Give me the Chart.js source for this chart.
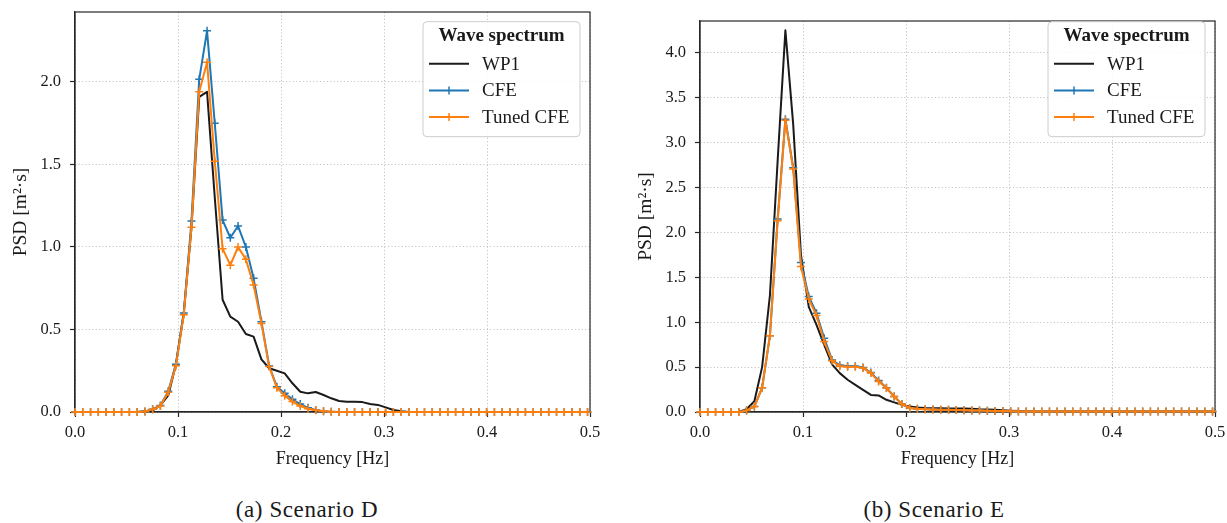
<!DOCTYPE html>
<html><head><meta charset="utf-8">
<script src="https://cdn.jsdelivr.net/npm/chart.js@4.4.1/dist/chart.umd.min.js"></script>
<style>
html,body{margin:0;padding:0;background:#fff;}
body{width:1227px;height:523px;position:relative;overflow:hidden;font-family:"Liberation Serif",serif;}
.wrap{position:absolute;top:0;height:480px;}
#w1{left:0;width:610px;}
#w2{left:625px;width:602px;}
.cap{position:absolute;top:497px;font-size:23px;letter-spacing:0.6px;line-height:26px;color:#1a1a1a;transform:translateX(-50%);white-space:nowrap;}
</style></head>
<body>
<div class="wrap" id="w1"><canvas id="c1" width="610" height="480"></canvas></div>
<div class="wrap" id="w2"><canvas id="c2" width="602" height="480"></canvas></div>
<div class="cap" style="left:307px">(a) Scenario D</div>
<div class="cap" style="left:934px">(b) Scenario E</div>
<script>
// ---- data ----
const freq = [0.0000,0.0075,0.0151,0.0226,0.0302,0.0377,0.0452,0.0528,0.0603,0.0679,
0.0754,0.0829,0.0905,0.0980,0.1056,0.1131,0.1206,0.1282,0.1357,0.1433,
0.1508,0.1583,0.1659,0.1734,0.1810,0.1885,0.1960,0.2036,0.2111,0.2187,
0.2262,0.2337,0.2413,0.2488,0.2564,0.2639,0.2714,0.2790,0.2865,0.2941,
0.3016,0.3091,0.3167,0.3242,0.3318,0.3393,0.3468,0.3544,0.3619,0.3695,
0.3770,0.3845,0.3921,0.3996,0.4072,0.4147,0.4222,0.4298,0.4373,0.4449,
0.4524,0.4599,0.4675,0.4750,0.4826,0.4901,0.4976];

const seriesNames = ["WP1", "CFE", "Tuned CFE"];

const dWP1 = [0,0,0,0,0,0,0,0,0,0.005,
0.01,0.04,0.10,0.29,0.60,1.12,1.91,1.94,1.30,0.68,
0.578,0.547,0.473,0.457,0.319,0.265,0.25,0.234,0.174,0.123,
0.113,0.121,0.103,0.083,0.067,0.062,0.062,0.06,0.048,0.043,
0.028,0.012,0.005,0,0,0,0,0,0,0,
0,0,0,0,0,0,0,0,0,0,
0,0,0,0,0,0,0];
const dCFE = [0,0,0,0,0,0,0,0,0,0.003,
0.017,0.04,0.125,0.29,0.60,1.157,2.016,2.31,1.75,1.163,
1.056,1.127,1.0,0.81,0.547,0.279,0.153,0.113,0.077,0.048,
0.025,0.012,0.005,0.002,0,0,0,0,0,0,
0,0,0,0,0,0,0,0,0,0,
0,0,0,0,0,0,0,0,0,0,
0,0,0,0,0,0,0];
const dTuned = [0,0,0,0,0,0,0,0,0,0.003,
0.016,0.036,0.12,0.28,0.59,1.12,1.94,2.12,1.52,0.99,
0.89,1.0,0.925,0.77,0.537,0.275,0.147,0.099,0.063,0.036,
0.02,0.01,0.005,0.002,0,0,0,0,0,0,
0,0,0,0,0,0,0,0,0,0,
0,0,0,0,0,0,0,0,0,0,
0,0,0,0,0,0,0];

const eWP1 = [0,0,0,0,0,0,0.03,0.12,0.5,1.3,
2.8,4.25,3.2,1.75,1.17,0.97,0.748,0.53,0.433,0.359,
0.303,0.247,0.19,0.185,0.136,0.107,0.08,0.06,0.05,0.045,
0.042,0.042,0.04,0.04,0.038,0.035,0.03,0.027,0.024,0.02,
0.015,0.01,0.008,0.005,0.005,0.005,0.005,0.005,0.005,0.005,
0.005,0.005,0.005,0.005,0.005,0.005,0.005,0.005,0.005,0.005,
0.005,0.005,0.005,0.005,0.005,0.005,0.005];
const eCFE = [0,0,0,0,0,0,0.017,0.06,0.27,0.85,
2.15,3.26,2.72,1.665,1.286,1.10,0.82,0.58,0.52,0.51,
0.51,0.495,0.44,0.35,0.27,0.173,0.088,0.045,0.035,0.03,
0.028,0.026,0.024,0.022,0.02,0.018,0.016,0.014,0.012,0.01,
0.008,0.006,0.005,0.005,0.005,0.005,0.005,0.005,0.005,0.005,
0.005,0.005,0.005,0.005,0.005,0.005,0.005,0.005,0.005,0.005,
0.005,0.005,0.005,0.005,0.005,0.005,0.005];
const eTuned = [0,0,0,0,0,0,0.017,0.06,0.27,0.85,
2.13,3.25,2.705,1.62,1.257,1.075,0.785,0.57,0.51,0.505,
0.505,0.489,0.433,0.34,0.266,0.173,0.088,0.045,0.035,0.03,
0.028,0.026,0.024,0.022,0.02,0.018,0.016,0.014,0.012,0.01,
0.008,0.006,0.005,0.005,0.005,0.005,0.005,0.005,0.005,0.005,
0.005,0.005,0.005,0.005,0.005,0.005,0.005,0.005,0.005,0.005,
0.005,0.005,0.005,0.005,0.005,0.005,0.005];

const xTicks = [0.0, 0.1, 0.2, 0.3, 0.4, 0.5];
const yTicksD = [0.0, 0.5, 1.0, 1.5, 2.0];
const yTicksE = [0.0, 0.5, 1.0, 1.5, 2.0, 2.5, 3.0, 3.5, 4.0];

// ---- styling ----
const FONT = '"Liberation Serif", serif';
const TXT = '#1a1a1a';
const SPINE = '#262626';
const colors = ['#1a1a1a', '#1f77b4', '#ff7f0e'];

const pts = (arr) => freq.map((f, i) => ({x: f, y: arr[i]}));

const framePlugin = {
  id: 'frame',
  beforeDatasetsDraw(chart) {
    const {ctx, chartArea: a} = chart;
    ctx.save();
    ctx.strokeStyle = SPINE;
    ctx.lineWidth = 1.2;
    ctx.strokeRect(a.left, a.top, a.right - a.left, a.bottom - a.top);
    ctx.restore();
  }
};

const legendPlugin = {
  id: 'boxLegend',
  afterDraw(chart, args, opts) {
    const {ctx, chartArea: a} = chart;
    const w = 157, h = 115;
    const x0 = a.right - 10 - w, y0 = opts.top;
    ctx.save();
    ctx.beginPath();
    if (ctx.roundRect) ctx.roundRect(x0, y0, w, h, 4); else ctx.rect(x0, y0, w, h);
    ctx.fillStyle = 'rgba(255,255,255,0.85)';
    ctx.fill();
    ctx.strokeStyle = '#cccccc';
    ctx.lineWidth = 1;
    ctx.stroke();
    ctx.fillStyle = TXT;
    ctx.textBaseline = 'middle';
    ctx.textAlign = 'center';
    ctx.font = 'bold 19px ' + FONT;
    ctx.fillText('Wave spectrum', x0 + w / 2, y0 + 14);
    ctx.textAlign = 'left';
    ctx.font = '19px ' + FONT;
    seriesNames.forEach((name, i) => {
      const yy = y0 + 42 + i * 26.7;
      ctx.strokeStyle = colors[i];
      ctx.lineWidth = 2;
      ctx.beginPath();
      ctx.moveTo(x0 + 6, yy); ctx.lineTo(x0 + 46, yy);
      ctx.stroke();
      if (i > 0) {
        ctx.lineWidth = 1.5;
        ctx.beginPath();
        ctx.moveTo(x0 + 26, yy - 4); ctx.lineTo(x0 + 26, yy + 4);
        ctx.stroke();
      }
      ctx.fillStyle = TXT;
      ctx.fillText(name, x0 + 59, yy + 1);
    });
    ctx.restore();
  }
};

function zeroPad(s) {
  s.paddingTop = 0; s.paddingBottom = 0; s.paddingLeft = 0; s.paddingRight = 0;
}

function makeChart(id, s0, s1, s2, yMax, yTicks, padTop, legendTop, padRight) {
  const ds = [s0, s1, s2].map((arr, i) => ({
    label: seriesNames[i],
    data: pts(arr),
    borderColor: colors[i],
    backgroundColor: colors[i],
    borderWidth: 2,
    borderJoinStyle: 'round',
    tension: 0,
    pointStyle: 'cross',
    pointRadius: i === 0 ? 0 : 4,
    pointBorderWidth: 1.5,
    pointBorderColor: colors[i],
    pointHoverRadius: 0,
    clip: false,
    order: 3 - i
  }));
  return new Chart(document.getElementById(id), {
    type: 'line',
    data: {datasets: ds},
    options: {
      responsive: false,
      animation: false,
      events: [],
      layout: {padding: {left: 0, right: padRight, top: padTop, bottom: 0}},
      plugins: {
        legend: {display: false},
        tooltip: {enabled: false},
        boxLegend: {top: legendTop}
      },
      scales: {
        x: {
          type: 'linear', min: 0, max: 0.5,
          afterFit: (s) => { s.height = 480 - 412; zeroPad(s); },
          afterBuildTicks: (s) => { s.ticks = xTicks.map(v => ({value: v})); },
          ticks: {
            color: TXT, padding: 6, maxRotation: 0,
            font: {family: FONT, size: 16.5},
            callback: (v) => Number(v).toFixed(1)
          },
          grid: {
            color: '#c4c4c4', lineWidth: 1, drawTicks: true, tickLength: 5,
            tickColor: SPINE, tickWidth: 1.2, tickBorderDash: []
          },
          border: {display: true, color: SPINE, width: 1.2, dash: [1.2, 2.2]},
          title: {
            display: true, text: 'Frequency [Hz]', color: TXT,
            font: {family: FONT, size: 18}, padding: {top: 0, bottom: 10}
          }
        },
        y: {
          type: 'linear', min: 0, max: yMax,
          afterFit: (s) => { s.width = 75; zeroPad(s); },
          afterBuildTicks: (s) => { s.ticks = yTicks.map(v => ({value: v})); },
          ticks: {
            color: TXT, padding: 9,
            font: {family: FONT, size: 16.5},
            callback: (v) => Number(v).toFixed(1)
          },
          grid: {
            color: '#c4c4c4', lineWidth: 1, drawTicks: true, tickLength: 5,
            tickColor: SPINE, tickWidth: 1.2, tickBorderDash: []
          },
          border: {display: true, color: SPINE, width: 1.2, dash: [1.2, 2.2]},
          title: {
            display: true, text: 'PSD [m²·s]', color: TXT,
            font: {family: FONT, size: 19.5}, padding: {top: 9, bottom: 0}
          }
        }
      }
    },
    plugins: [framePlugin, legendPlugin]
  });
}

makeChart('c1', dWP1, dCFE, dTuned, 2.424, yTicksD, 12, 21.7, 20);
makeChart('c2', eWP1, eCFE, eTuned, 4.354, yTicksE, 21, 21.7, 12);
</script>
</body></html>
